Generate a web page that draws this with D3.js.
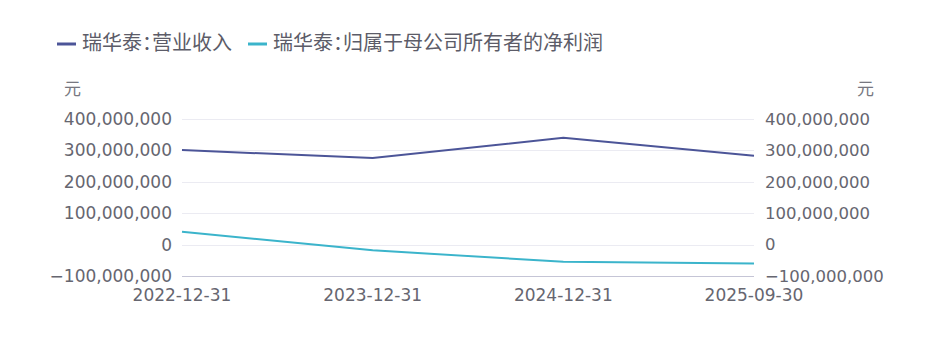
<!DOCTYPE html>
<html>
<head>
<meta charset="utf-8">
<script src="https://cdn.jsdelivr.net/npm/d3@7"></script>
<style>
    body { margin: 0; background: #fff; }
    svg text { font-family: "DejaVu Sans", "Noto Sans CJK SC", sans-serif; }
    svg text.cn { font-family: "Noto Sans CJK SC", sans-serif; font-feature-settings: "halt"; }
</style>
</head>
<body>
<div id="chart"></div>
<script>
const dates = ['2022-12-31', '2023-12-31', '2024-12-31', '2025-09-30'];
const revenue = [301000000, 276000000, 340000000, 283000000];
const netProfit = [41000000, -18000000, -55000000, -60000000];
const yTicks = [-100000000, 0, 100000000, 200000000, 300000000, 400000000];
const seriesNames = ['瑞华泰：营业收入', '瑞华泰：归属于母公司所有者的净利润'];
const seriesColors = ['#4c5598', '#3bb4cb'];

const width = 937;
const height = 339;
const margin = { left: 182, right: 183, top: 119, bottom: 63 };

const svg = d3.select('#chart').append('svg')
    .attr('width', width)
    .attr('height', height);

const x = d3.scalePoint()
    .domain(dates)
    .range([margin.left, width - margin.right]);

const y = d3.scaleLinear()
    .domain([-100000000, 400000000])
    .range([height - margin.bottom, margin.top]);

const fmt = d3.format(',');

// gridlines
svg.append('g')
    .selectAll('line')
    .data(yTicks.slice(1))
    .enter().append('line')
    .attr('x1', margin.left)
    .attr('x2', width - margin.right)
    .attr('y1', d => Math.round(y(d)) + 0.5)
    .attr('y2', d => Math.round(y(d)) + 0.5)
    .attr('stroke', '#ebebf2')
    .attr('stroke-width', 1);

// bottom axis line
svg.append('line')
    .attr('x1', margin.left)
    .attr('x2', width - margin.right)
    .attr('y1', Math.round(y(-100000000)) + 0.5)
    .attr('y2', Math.round(y(-100000000)) + 0.5)
    .attr('stroke', '#c5c5d6')
    .attr('stroke-width', 1);

// left axis labels
svg.append('g')
    .selectAll('text')
    .data(yTicks)
    .enter().append('text')
    .attr('x', margin.left - 10)
    .attr('y', d => y(d))
    .attr('dy', '0.35em')
    .attr('text-anchor', 'end')
    .attr('font-size', 17)
    .attr('fill', '#666670')
    .text(d => fmt(d));

// right axis labels
svg.append('g')
    .selectAll('text')
    .data(yTicks)
    .enter().append('text')
    .attr('x', width - margin.right + 11)
    .attr('y', d => y(d))
    .attr('dy', '0.35em')
    .attr('text-anchor', 'start')
    .attr('font-size', 16.5)
    .attr('fill', '#666670')
    .text(d => fmt(d));

// unit labels
svg.append('text')
    .attr('class', 'cn')
    .attr('x', 64).attr('y', 95)
    .attr('font-size', 17).attr('fill', '#777780')
    .text('元');
svg.append('text')
    .attr('class', 'cn')
    .attr('x', 874).attr('y', 95)
    .attr('text-anchor', 'end')
    .attr('font-size', 17).attr('fill', '#777780')
    .text('元');

// x axis labels
svg.append('g')
    .selectAll('text')
    .data(dates)
    .enter().append('text')
    .attr('x', d => x(d))
    .attr('y', 301)
    .attr('text-anchor', 'middle')
    .attr('font-size', 17)
    .attr('fill', '#666670')
    .text(d => d);

// lines
const line = d3.line()
    .x((d, i) => x(dates[i]))
    .y(d => y(d));

[revenue, netProfit].forEach((values, i) => {
    svg.append('path')
        .datum(values)
        .attr('fill', 'none')
        .attr('stroke', seriesColors[i])
        .attr('stroke-width', 2)
        .attr('d', line);
});

// legend
const legendX = [57, 248];
seriesNames.forEach((name, i) => {
    svg.append('line')
        .attr('x1', legendX[i]).attr('x2', legendX[i] + 19)
        .attr('y1', 44).attr('y2', 44)
        .attr('stroke', seriesColors[i])
        .attr('stroke-width', 3);
    svg.append('text')
        .attr('class', 'cn')
        .attr('x', legendX[i] + 25)
        .attr('y', 43)
        .attr('dy', '0.35em')
        .attr('font-size', 20)
        .attr('fill', '#5c5c68')
        .text(name);
});
</script>
</body>
</html>
